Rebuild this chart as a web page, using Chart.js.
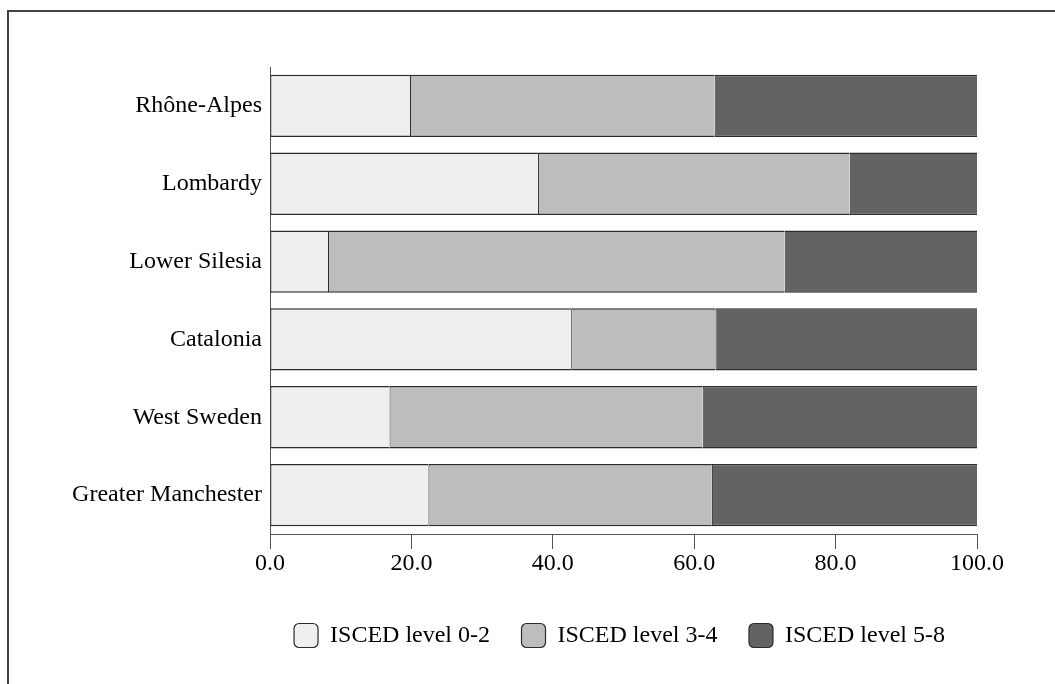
<!DOCTYPE html>
<html>
<head>
<meta charset="utf-8">
<title>ISCED levels by region</title>
<script src="https://cdn.jsdelivr.net/npm/chart.js@4"></script>
<style>
  html, body { margin: 0; padding: 0; background: #fff; overflow: hidden; }
  #wrap { position: relative; width: 1055px; height: 684px; }
  #frame {
    position: absolute; left: 7px; top: 10px;
    width: 1200px; height: 800px;
    border: 2px solid #444; pointer-events: none;
  }
</style>
</head>
<body>
<div id="wrap">
  <canvas id="eduChart" width="1055" height="684"></canvas>
  <div id="frame"></div>
</div>
<script>
// --- Data ---
const regions = ['Rhône-Alpes', 'Lombardy', 'Lower Silesia', 'Catalonia', 'West Sweden', 'Greater Manchester'];
const level02 = [19.8, 37.9, 8.2, 42.6, 16.9, 22.4];
const level34 = [43.1, 44.1, 64.6, 20.4, 44.3, 40.1];
const level58 = [37.1, 18.0, 27.2, 37.0, 38.8, 37.5];
const xTicks = [0, 20, 40, 60, 80, 100];

const fontFamily = "'Liberation Serif', 'Times New Roman', serif";
const barBorder = { top: 1.5, bottom: 1.5, left: 1, right: 0 };

function series(label, data, color) {
    return {
        label: label,
        data: data,
        backgroundColor: color,
        borderColor: '#2b2b2b',
        borderWidth: barBorder,
        borderSkipped: false,
        barPercentage: 0.8,
        categoryPercentage: 1
    };
}

// Centre the legend row under the plot area instead of the whole canvas
const legendUnderPlot = {
    id: 'legendUnderPlot',
    afterLayout(chart) {
        const lg = chart.legend;
        if (!lg) return;
        const centre = (chart.chartArea.left + chart.chartArea.right) / 2 - 4;
        const half = (lg.right - lg.left) / 2;
        lg.left = centre - half;
        lg.right = centre + half;
    }
};

Chart.defaults.font.family = fontFamily;
Chart.defaults.color = '#000';

new Chart(document.getElementById('eduChart'), {
    type: 'bar',
    data: {
        labels: regions,
        datasets: [
            series('ISCED level 0-2', level02, '#efefef'),
            series('ISCED level 3-4', level34, '#bdbdbd'),
            series('ISCED level 5-8', level58, '#636363')
        ]
    },
    plugins: [legendUnderPlot],
    options: {
        indexAxis: 'y',
        responsive: false,
        animation: false,
        layout: { padding: { top: 67, right: 78, left: 0, bottom: 26.5 } },
        plugins: {
            tooltip: { enabled: false },
            legend: {
                position: 'bottom',
                labels: {
                    font: { size: 24 },
                    boxWidth: 24,
                    boxHeight: 24,
                    padding: 31.5,
                    useBorderRadius: true,
                    borderRadius: 5,
                    generateLabels: (chart) => Chart.defaults.plugins.legend.labels.generateLabels(chart)
                        .map(l => Object.assign(l, { lineWidth: 1.2, strokeStyle: '#2b2b2b' }))
                }
            }
        },
        scales: {
            x: {
                stacked: true,
                min: 0,
                max: 100,
                afterBuildTicks: (scale) => { scale.ticks = xTicks.map(v => ({ value: v })); },
                afterFit: (scale) => { scale.height = 58; },
                ticks: {
                    font: { size: 24 },
                    padding: 0,
                    maxRotation: 0,
                    callback: (v) => Number(v).toFixed(1)
                },
                grid: { drawOnChartArea: false, drawTicks: true, tickLength: 15, color: '#555', lineWidth: 1 },
                border: { display: true, color: '#555', width: 1 }
            },
            y: {
                stacked: true,
                afterFit: (scale) => { scale.width = 270; },
                ticks: { font: { size: 24 }, padding: 8 },
                grid: { display: false, drawTicks: false },
                border: { display: true, color: '#555', width: 1 }
            }
        }
    }
});
</script>
</body>
</html>
